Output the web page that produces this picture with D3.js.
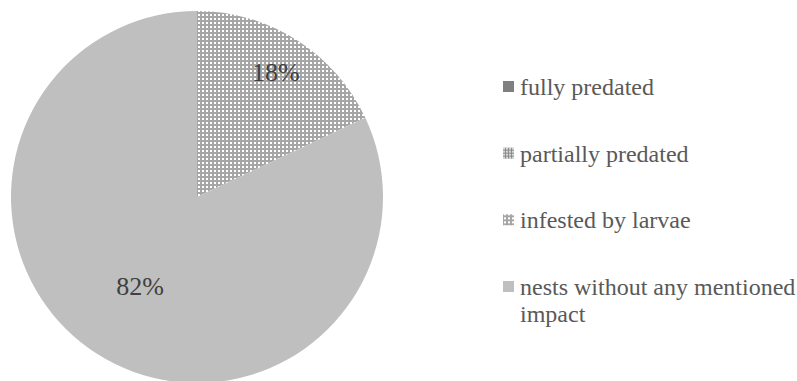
<!DOCTYPE html>
<html>
<head>
<meta charset="utf-8">
<script src="https://cdn.jsdelivr.net/npm/d3@7"></script>
<style>
  html, body { margin: 0; padding: 0; background: #fff; }
</style>
</head>
<body>
<svg id="chart" width="797" height="381"></svg>
<script>
// Nest outcome categories and their shares (percent)
const categories = ["fully predated", "partially predated", "infested by larvae", "nests without any mentioned impact"];
const shares = [0, 0, 18, 82];
const labels = ["", "", "18%", "82%"];

const fontStack = "'Times New Roman', 'Liberation Serif', Tinos, 'DejaVu Serif', serif";

const svg = d3.select("#chart");
const defs = svg.append("defs");

// Fill patterns
const pDark = defs.append("pattern").attr("id", "fill-full")
  .attr("width", 4).attr("height", 4).attr("patternUnits", "userSpaceOnUse");
pDark.append("rect").attr("width", 4).attr("height", 4).attr("fill", "#7f7f7f");

const pPartial = defs.append("pattern").attr("id", "fill-partial")
  .attr("width", 3).attr("height", 3).attr("patternUnits", "userSpaceOnUse");
pPartial.append("rect").attr("width", 3).attr("height", 3).attr("fill", "#8a8a8a");
pPartial.append("rect").attr("width", 2).attr("height", 2).attr("fill", "#d8d8d8");

const pDots = defs.append("pattern").attr("id", "fill-dots")
  .attr("width", 4).attr("height", 4).attr("patternUnits", "userSpaceOnUse");
pDots.append("rect").attr("width", 4).attr("height", 4).attr("fill", "#a6a6a6");
pDots.append("rect").attr("x", 1).attr("y", 1).attr("width", 2).attr("height", 2).attr("fill", "#ffffff");

const fills = ["url(#fill-full)", "url(#fill-partial)", "url(#fill-dots)", "#bfbfbf"];

const color = d3.scaleOrdinal().domain(categories).range(fills);

const data = categories.map((c, i) => ({ name: c, value: shares[i], label: labels[i] }));

const cx = 197, cy = 197, r = 186;

const pie = d3.pie().value(d => d.value).sort(null);
const arc = d3.arc().innerRadius(0).outerRadius(r);
// small slices carry their label further out than large ones
const labelRadius = d => (d.endAngle - d.startAngle) < Math.PI ? r * 0.79 : r * 0.57;

const g = svg.append("g").attr("transform", `translate(${cx},${cy})`);
const arcs = pie(data).filter(d => d.data.value > 0);

g.selectAll("path.slice").data(arcs).enter().append("path")
  .attr("class", "slice")
  .attr("d", arc)
  .attr("fill", d => color(d.data.name))
  .attr("stroke", "none");

g.selectAll("text.val").data(arcs).enter().append("text")
  .attr("class", "val")
  .attr("transform", d => {
    const rr = labelRadius(d);
    const [x, y] = d3.arc().innerRadius(rr).outerRadius(rr).centroid(d);
    return `translate(${x},${y})`;
  })
  .attr("text-anchor", "middle")
  .attr("dominant-baseline", "central")
  .attr("font-family", fontStack)
  .attr("font-size", 26)
  .attr("fill", "#404040")
  .text(d => d.data.label);

// Legend
const legendY = d3.scalePoint().domain(categories).range([87, 287]);
const legend = svg.append("g").attr("class", "legend");
const items = legend.selectAll("g.item").data(categories).enter().append("g")
  .attr("class", "item")
  .attr("transform", d => `translate(503,${legendY(d)})`);

items.append("rect")
  .attr("x", 0).attr("y", -6)
  .attr("width", 11).attr("height", 11)
  .attr("fill", d => color(d));

const maxW = 285;
items.each(function(d) {
  const t = d3.select(this).append("text")
    .attr("x", 17).attr("y", 0)
    .attr("dominant-baseline", "central")
    .attr("font-family", fontStack)
    .attr("font-size", 24)
    .attr("fill", "#595959");
  const words = d.split(" ");
  let line = [];
  let tspan = t.append("tspan").attr("x", 17).attr("dy", 0);
  words.forEach(w => {
    line.push(w);
    tspan.text(line.join(" "));
    if (tspan.node().getComputedTextLength() > maxW && line.length > 1) {
      line.pop();
      tspan.text(line.join(" "));
      line = [w];
      tspan = t.append("tspan").attr("x", 17).attr("dy", 27).text(w);
    }
  });
});
</script>
</body>
</html>
